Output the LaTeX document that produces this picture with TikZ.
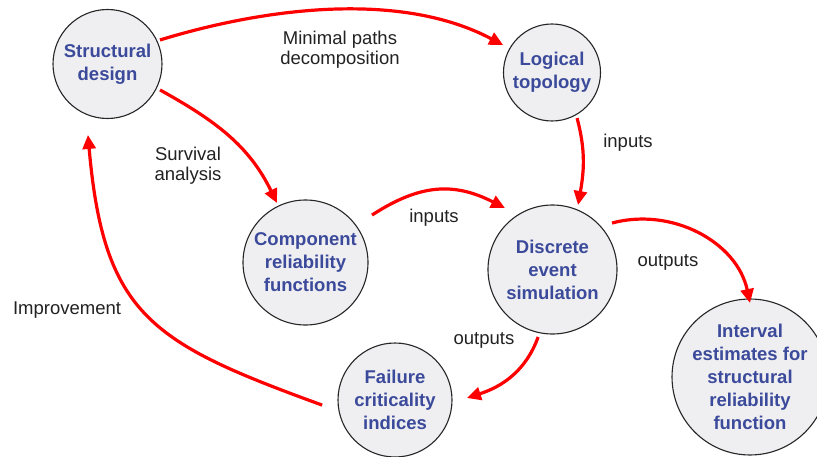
\documentclass[tikz,border=0pt]{standalone}
\usepackage{fontspec}
\setmainfont{Liberation Sans}
\usetikzlibrary{arrows.meta,calc}
\definecolor{nodeblue}{HTML}{3B4A9A}
\definecolor{nodefill}{HTML}{EFEFF2}
\definecolor{arrowred}{HTML}{FF0000}
\definecolor{labelgray}{HTML}{222222}
\begin{document}
\begin{tikzpicture}[x=1pt,y=1pt,
  bubble/.style={circle,draw=black!85,line width=1.1pt,fill=nodefill,inner sep=0pt,align=center,text=nodeblue,font=\fontsize{18.5}{23}\selectfont\bfseries},
  lbl/.style={align=center,text=labelgray,font=\fontsize{18.5}{20}\selectfont},
  flow/.style={draw=arrowred,line width=3.2pt,-{Triangle[length=14pt,width=13pt]}}]
\useasboundingbox (0,0) rectangle (817,456);
\fill[white] (0,0) rectangle (817,456);
\node[bubble,minimum size=109pt] (sd) at (107.5,392) {Structural\\design};
\node[bubble,minimum size=97pt] (lt) at (552,383.5) {Logical\\topology};
\node[bubble,minimum size=125pt] (crf) at (305.5,193.5) {Component\\reliability\\functions};
\node[bubble,minimum size=129pt] (des) at (552.5,186.5) {Discrete\\event\\simulation};
\node[bubble,minimum size=114pt] (fci) at (395,56) {Failure\\criticality\\indices};
\node[bubble,minimum size=141pt] (ie) at (750,79) {Interval\\estimates for\\structural\\reliability\\function};

\node[lbl] (l1) at (340,406) {Minimal paths\\decomposition};
\node[lbl] (l2) at (188,290) {Survival\\analysis};
\node[lbl] (l3) at (67,146) {Improvement};
\node[lbl] (l4) at (628,313) {inputs};
\node[lbl] (l5) at (434,238) {inputs};
\node[lbl] (l6) at (668,194) {outputs};
\node[lbl] (l7) at (484,116) {outputs};

\draw[flow] ($(sd)+(24.6:57.7)$) to[out=17,in=152,looseness=0.85] ($(lt)+(150.7:56)$);
\draw[flow] ($(sd)+(-26.3:58.6)$) to[out=-29,in=116] ($(crf)+(115.6:66)$);
\draw[flow] ($(lt)+(-61.2:52)$) to[out=-75,in=80] ($(des)+(68.4:69.4)$);
\draw[flow] ($(crf)+(35.5:81.7)$) to[out=33,in=153,looseness=1.1] ($(des)+(127.7:77.7)$);
\draw[flow] ($(des)+(38:75.5)$) to[out=15,in=102] ($(ie)+(90:74)$);
\draw[flow] ($(des)+(-102:69)$) to[out=250,in=18] ($(fci)+(1.6:72)$);
\draw[flow] ($(fci)+(184:73)$) to[out=160,in=-85,looseness=1.3] ($(sd)+(254.6:73.6)$);
\end{tikzpicture}
\end{document}
